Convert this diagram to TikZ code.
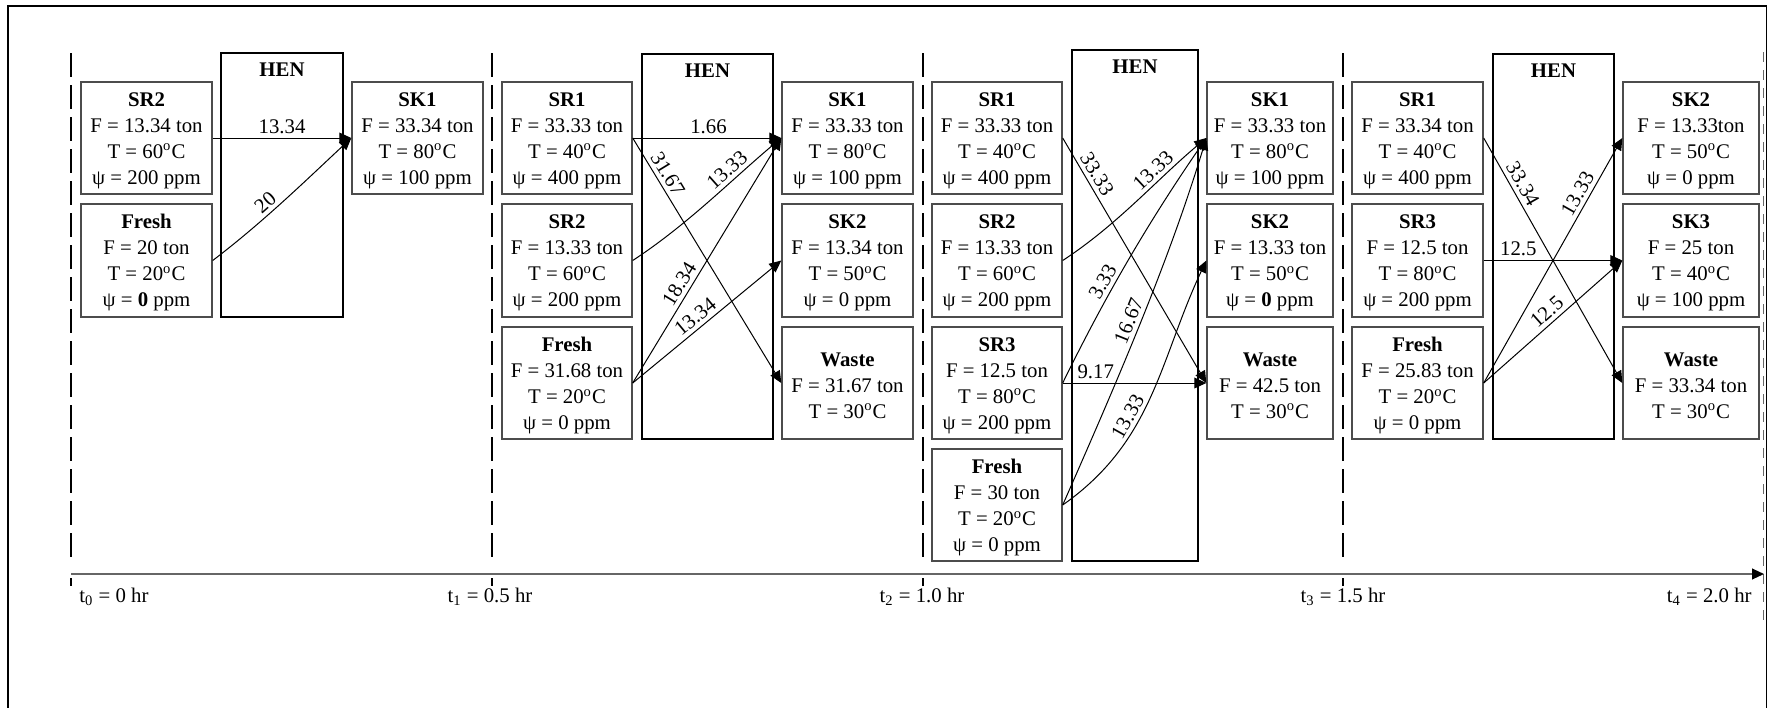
\documentclass[tikz,border=0pt]{standalone}
\usepackage{fontspec}
\setmainfont{Liberation Serif}
\usetikzlibrary{arrows.meta,fit}
\newcommand\fs{\fontsize{10.4}{12.65}\selectfont}
\newcommand\fb{\fontsize{10.4}{13}\selectfont}
\begin{document}
\begin{tikzpicture}[x=0.5pt,y=-0.5pt,
  databox/.style={draw=black!70, line width=0.7pt, inner sep=0pt},
  boxtext/.style={font=\fb, align=center, inner sep=0pt, yshift=-1.2pt},
  henbox/.style={draw=black, line width=0.8pt, inner sep=0pt},
  hentitle/.style={font=\fs\bfseries, inner sep=0pt},
  flow/.style={line width=0.5pt, -{Triangle[length=6pt,width=5.4pt]}},
  lab/.style={font=\fs, inner sep=2pt},
  divider/.style={line width=0.7pt, dash pattern=on 12pt off 4pt},
  axisline/.style={draw=black!60, line width=0.8pt, -{Triangle[length=6pt,width=5.4pt,color=black]}},
  tlab/.style={font=\fs, inner sep=0pt}]
\useasboundingbox (0,0) rectangle (1767,707);
\begin{scope}
\clip (0,0) rectangle (1767,707);
\draw[line width=0.75pt] (8,720) -- (8,6) -- (1766.5,6) -- (1766.5,720);
\end{scope}

% dividers
\foreach \xx in {71,492,923,1343}{
  \draw[divider] (\xx,53) -- (\xx,563);
  \draw[line width=0.7pt] (\xx,578) -- (\xx,586);
}
\draw[black!60, line width=0.5pt, dash pattern=on 5pt off 4pt] (1763.5,52) -- (1763.5,620);

% axis
\coordinate (ax0) at (71,574);
\coordinate (ax1) at (1764,574);
\draw[axisline] (ax0) -- (ax1);
\node[tlab, anchor=west] (t0) at (79,597) {t\textsubscript{0} = 0 hr};
\node[tlab] (t1) at (490,597) {t\textsubscript{1} = 0.5 hr};
\node[tlab] (t2) at (922,597) {t\textsubscript{2} = 1.0 hr};
\node[tlab] (t3) at (1343,597) {t\textsubscript{3} = 1.5 hr};
\node[tlab, anchor=east] (t4) at (1752,597) {t\textsubscript{4} = 2.0 hr};

% ---------- section 1 ----------
\node[databox, fit={(81,82)(212,194)}, label={[boxtext]center:{\textbf{SR2}\\F = 13.34 ton\\T = 60\textsuperscript{o}C\\ψ = 200 ppm}}] (a-sr2) {};
\node[databox, fit={(81,204)(212,317)}, label={[boxtext]center:{\textbf{Fresh}\\F = 20 ton\\T = 20\textsuperscript{o}C\\ψ = \textbf{0} ppm}}] (a-fr) {};
\node[henbox, fit={(221,53)(343,317)}] (a-hen) {};
\node[hentitle] (a-hent) at (282,70) {HEN};
\node[databox, fit={(352,82)(483,194)}, label={[boxtext]center:{\textbf{SK1}\\F = 33.34 ton\\T = 80\textsuperscript{o}C\\ψ = 100 ppm}}] (a-sk1) {};
\draw[flow] (a-sr2.east) -- (a-sk1.west) node[lab, pos=.5, above] {13.34};
\draw[flow] (a-fr.east) .. controls +(50,-38) and +(-45,42) .. (a-sk1.west) node[lab, pos=.42, sloped, above] {20};

% ---------- section 2 ----------
\node[databox, fit={(502,82)(632,194)}, label={[boxtext]center:{\textbf{SR1}\\F = 33.33 ton\\T = 40\textsuperscript{o}C\\ψ = 400 ppm}}] (b-sr1) {};
\node[databox, fit={(502,204)(632,317)}, label={[boxtext]center:{\textbf{SR2}\\F = 13.33 ton\\T = 60\textsuperscript{o}C\\ψ = 200 ppm}}] (b-sr2) {};
\node[databox, fit={(502,327)(632,439)}, label={[boxtext]center:{\textbf{Fresh}\\F = 31.68 ton\\T = 20\textsuperscript{o}C\\ψ = 0 ppm}}] (b-fr) {};
\node[henbox, fit={(642,54)(773,439)}] (b-hen) {};
\node[hentitle] (b-hent) at (707.5,71) {HEN};
\node[databox, fit={(782,82)(913,194)}, label={[boxtext]center:{\textbf{SK1}\\F = 33.33 ton\\T = 80\textsuperscript{o}C\\ψ = 100 ppm}}] (b-sk1) {};
\node[databox, fit={(782,204)(913,317)}, label={[boxtext]center:{\textbf{SK2}\\F = 13.34 ton\\T = 50\textsuperscript{o}C\\ψ = 0 ppm}}] (b-sk2) {};
\node[databox, fit={(782,327)(913,439)}, label={[boxtext]center:{\textbf{Waste}\\F = 31.67 ton\\T = 30\textsuperscript{o}C}}] (b-wa) {};
\draw[flow] (b-sr1.east) -- (b-sk1.west) node[lab, pos=.51, above] {1.66};
\draw[flow] (b-sr1.east) -- (b-wa.west) node[lab, pos=.17, sloped, above] {31.67};
\draw[flow] (b-sr2.east) .. controls +(55,-36) and +(-50,42) .. (b-sk1.west) node[lab, pos=.68, sloped, above] {13.33};
\draw[flow] (b-fr.east) -- (b-sk1.west) node[lab, pos=.38, sloped, above] {18.34};
\draw[flow] (b-fr.east) -- (b-sk2.west) node[lab, pos=.47, sloped, above] {13.34};

% ---------- section 3 ----------
\node[databox, fit={(932,82)(1062,194)}, label={[boxtext]center:{\textbf{SR1}\\F = 33.33 ton\\T = 40\textsuperscript{o}C\\ψ = 400 ppm}}] (c-sr1) {};
\node[databox, fit={(932,204)(1062,317)}, label={[boxtext]center:{\textbf{SR2}\\F = 13.33 ton\\T = 60\textsuperscript{o}C\\ψ = 200 ppm}}] (c-sr2) {};
\node[databox, fit={(932,327)(1062,439)}, label={[boxtext]center:{\textbf{SR3}\\F = 12.5 ton\\T = 80\textsuperscript{o}C\\ψ = 200 ppm}}] (c-sr3) {};
\node[databox, fit={(932,449)(1062,561)}, label={[boxtext]center:{\textbf{Fresh}\\F = 30 ton\\T = 20\textsuperscript{o}C\\ψ = 0 ppm}}] (c-fr) {};
\node[henbox, fit={(1072,50)(1198,561)}] (c-hen) {};
\node[hentitle] (c-hent) at (1135,67) {HEN};
\node[databox, fit={(1207,82)(1333,194)}, label={[boxtext]center:{\textbf{SK1}\\F = 33.33 ton\\T = 80\textsuperscript{o}C\\ψ = 100 ppm}}] (c-sk1) {};
\node[databox, fit={(1207,204)(1333,317)}, label={[boxtext]center:{\textbf{SK2}\\F = 13.33 ton\\T = 50\textsuperscript{o}C\\ψ = \textbf{0} ppm}}] (c-sk2) {};
\node[databox, fit={(1207,327)(1333,439)}, label={[boxtext]center:{\textbf{Waste}\\F = 42.5 ton\\T = 30\textsuperscript{o}C}}] (c-wa) {};
\draw[flow] (c-sr1.east) -- (c-wa.west) node[lab, pos=.17, sloped, above] {33.33};
\draw[flow] (c-sr2.east) .. controls +(55,-36) and +(-50,42) .. (c-sk1.west) node[lab, pos=.68, sloped, above] {13.33};
\draw[flow] (c-sr3.east) .. controls +(45,-92) and +(-55,80) .. (c-sk1.west) node[lab, pos=.37, sloped, above] {3.33};
\draw[flow] (c-sr3.east) -- (c-wa.west) node[lab, pos=.23, above] {9.17};
\draw[flow] (c-fr.east) .. controls +(55,-125) and +(-38,125) .. (c-sk1.west) node[lab, pos=.49, sloped, above] {16.67};
\draw[flow] (c-fr.east) .. controls +(91,-64) and +(-47,100) .. (c-sk2.west) node[lab, pos=.39, sloped, above] {13.33};

% ---------- section 4 ----------
\node[databox, fit={(1352,82)(1483,194)}, label={[boxtext]center:{\textbf{SR1}\\F = 33.34 ton\\T = 40\textsuperscript{o}C\\ψ = 400 ppm}}] (d-sr1) {};
\node[databox, fit={(1352,204)(1483,317)}, label={[boxtext]center:{\textbf{SR3}\\F = 12.5 ton\\T = 80\textsuperscript{o}C\\ψ = 200 ppm}}] (d-sr3) {};
\node[databox, fit={(1352,327)(1483,439)}, label={[boxtext]center:{\textbf{Fresh}\\F = 25.83 ton\\T = 20\textsuperscript{o}C\\ψ = 0 ppm}}] (d-fr) {};
\node[henbox, fit={(1493,54)(1614,439)}] (d-hen) {};
\node[hentitle] (d-hent) at (1553.5,71) {HEN};
\node[databox, fit={(1623,82)(1759,194)}, label={[boxtext]center:{\textbf{SK2}\\F = 13.33ton\\T = 50\textsuperscript{o}C\\ψ = 0 ppm}}] (d-sk2) {};
\node[databox, fit={(1623,204)(1759,317)}, label={[boxtext]center:{\textbf{SK3}\\F = 25 ton\\T = 40\textsuperscript{o}C\\ψ = 100 ppm}}] (d-sk3) {};
\node[databox, fit={(1623,327)(1759,439)}, label={[boxtext]center:{\textbf{Waste}\\F = 33.34 ton\\T = 30\textsuperscript{o}C}}] (d-wa) {};
\draw[flow] (d-sr1.east) -- (d-wa.west) node[lab, pos=.21, sloped, above] {33.34};
\draw[flow] (d-sr3.east) -- (d-sk3.west) node[lab, pos=.25, above] {12.5};
\draw[flow] (d-fr.east) -- (d-sk2.west) node[lab, pos=.75, sloped, above] {13.33};
\draw[flow] (d-fr.east) -- (d-sk3.west) node[lab, pos=.51, sloped, above] {12.5};
\end{tikzpicture}
\end{document}
